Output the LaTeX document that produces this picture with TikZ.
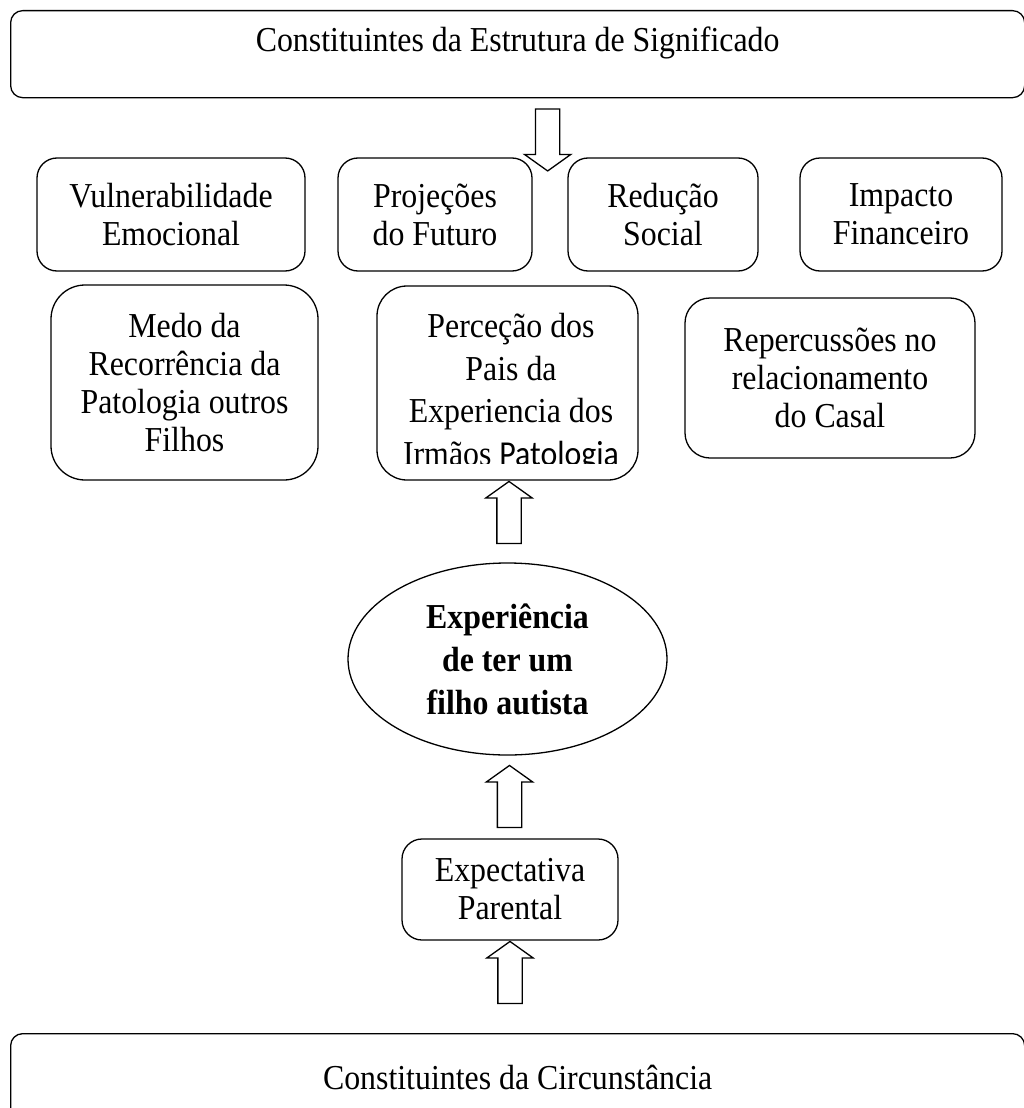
\documentclass[tikz,border=0pt]{standalone}
\usepackage{fontspec}
\setmainfont{Liberation Serif}[FakeStretch=0.91]
\newfontfamily\calibrifont{Carlito}[FakeStretch=0.91]
\usetikzlibrary{shapes.geometric,shapes.arrows}

\begin{document}
\begin{tikzpicture}[x=1pt,y=-1pt,
        box/.style={draw,line width=1.3pt,rounded corners=#1,align=center,inner sep=0pt,
          font=\fontsize{35}{38}\selectfont},
        box/.default=20pt,
        blockup/.style={draw,line width=1.3pt,single arrow,shape border rotate=90,
          single arrow head extend=11pt,single arrow tip angle=109,single arrow head indent=0pt,
          minimum height=62pt,inner sep=11.5pt},
        blockdown/.style={blockup,shape border rotate=270}]
        \useasboundingbox (0,0) rectangle (1023,1108);
        % blocos do topo e da base
        \node[box=12pt,anchor=north west,minimum width=1014pt,text height=41pt,text depth=46pt] (estrutura) at (10,10) {Constituintes da Estrutura de Significado};
        \node[box=12pt,anchor=north west,minimum width=1014pt,text height=56pt,text depth=60pt] (circunstancia) at (10,1033) {Constituintes da Circunstância};
        % primeira linha
        \node[box,minimum width=268pt,minimum height=113pt] (vulnerabilidade) at (171,214.5) {Vulnerabilidade\\Emocional};
        \node[box,minimum width=194pt,minimum height=113pt] (projecoes) at (435,214.5) {Projeções\\do Futuro};
        \node[box,minimum width=190pt,minimum height=113pt] (reducao) at (663,214.5) {Redução\\Social};
        \node[box,minimum width=202pt,minimum height=113pt] (impacto) at (901,214.5) {Impacto\\Financeiro};
        % segunda linha
        \node[box=34pt,minimum width=267pt,minimum height=195pt] (medo) at (184.5,382.5) {Medo da\\Recorrência da\\Patologia outros\\Filhos};
        \node[box=30pt,minimum width=261pt,minimum height=194pt] (percepcao) at (507.5,383) {};
        \begin{scope}
          \clip (percepcao.north west) rectangle ([yshift=17pt]percepcao.south east);
          \node[box,draw=none,anchor=north,font=\fontsize{35}{42.5}\selectfont] (percepcaotxt) at (511,313) {Perceção dos\\Pais da\\Experiencia dos\\Irmãos {\calibrifont Patologia}};
        \end{scope}
        \node[box=25pt,minimum width=290pt,minimum height=160pt] (repercussoes) at (830,378) {Repercussões no\\relacionamento\\do Casal};
        % centro
        \node[draw,line width=1.3pt,ellipse,minimum width=319pt,minimum height=192pt,inner sep=0pt,align=center,
          font=\fontsize{35}{43}\selectfont\bfseries] (experiencia) at (507.5,659) {Experiência\\de ter um\\filho autista};
        \node[box,minimum width=216pt,minimum height=101pt] (expectativa) at (510,889.5) {Expectativa\\Parental};
        % setas
        \node[blockdown,anchor=tail] (seta1) at ([xshift=30pt,yshift=-10pt]estrutura.south) {};
        \node[blockup,anchor=tip] (seta2) at ([xshift=1.5pt]percepcao.south) {};
        \node[blockup,anchor=tip] (seta3) at ([xshift=2pt,yshift=-9pt]experiencia.south) {};
        \node[blockup,anchor=tip] (seta4) at (expectativa.south) {};
      \end{tikzpicture}
\end{document}
